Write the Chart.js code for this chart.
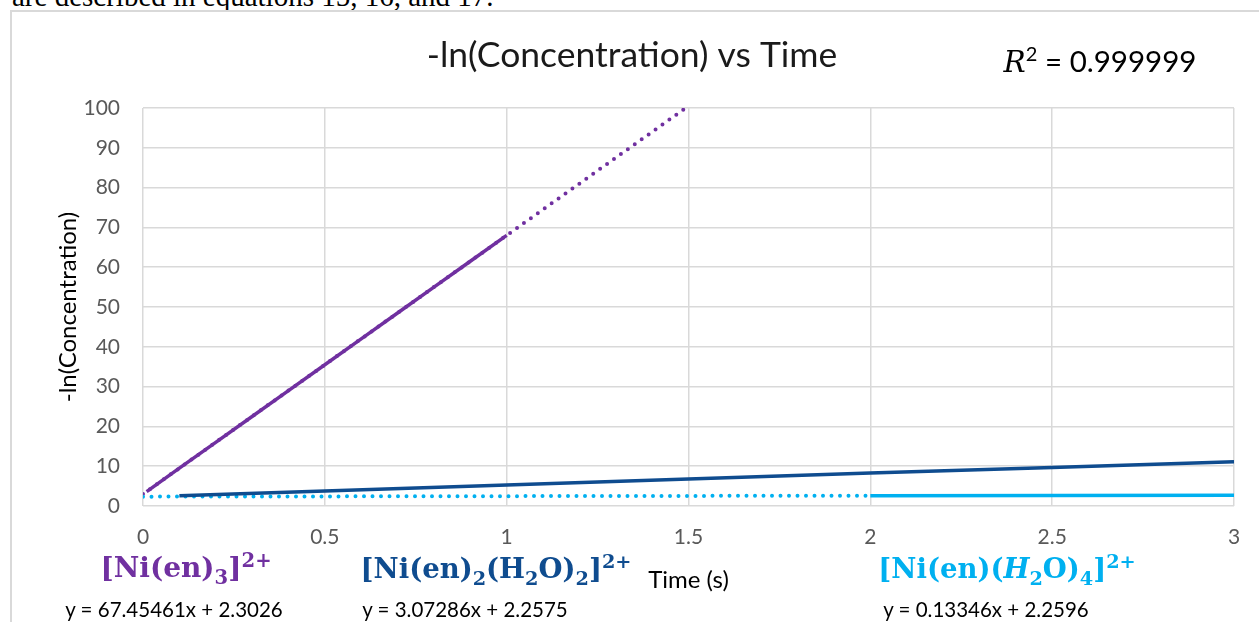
<!DOCTYPE html>
<html>
<head>
<meta charset="utf-8">
<title>-ln(Concentration) vs Time</title>
<script src="https://cdn.jsdelivr.net/npm/chart.js@4.4.0/dist/chart.umd.min.js"></script>
<style>
  html, body { margin: 0; padding: 0; background: #fff; overflow: hidden; }
  #wrap { position: relative; width: 1259px; height: 622px; overflow: hidden; }
  #frame { position: absolute; left: 10px; top: 10px; width: 1300px; height: 700px; border: 2px solid #d9d9d9; box-sizing: border-box; }
  #intro { position: absolute; left: 12px; top: -18px; font: 29px "Liberation Serif"; line-height: 29px; white-space: nowrap; color: #000; }
  canvas { position: absolute; left: 0; top: 0; }
  .lbl { position: absolute; white-space: nowrap; transform: translateX(-50%); }
  .chem { font: bold 28px "DejaVu Serif"; line-height: 30px; }
  .chem.small { font-size: 27.5px; }
  .chem sub, .chem sup { font-size: 0.7em; line-height: 0; }
  .eq { font: 20.5px Lato; color: #000; line-height: 22px; }
  #r2 { font: 29.5px Lato; color: #000; line-height: 32px; }
  #r2 i { font-family: "DejaVu Serif"; }
  #r2 sup { font-size: 0.68em; line-height: 0; }
</style>
</head>
<body>
<div id="wrap">
  <div id="intro">are described in equations 15, 16, and 17.</div>
  <div id="frame"></div>
  <canvas id="chart" width="1259" height="622"></canvas>

  <div id="r2" class="lbl" style="left:1100px; top:45px;"><i>R</i><sup>2</sup> = 0.999999</div>

  <div class="lbl chem" style="left:186px; top:553px; color:#7030A0;">[Ni(en)<sub>3</sub>]<sup>2+</sup></div>
  <div class="lbl chem small" style="left:496px; top:553px; color:#0F4C8F;">[Ni(en)<sub>2</sub>(H<sub>2</sub>O)<sub>2</sub>]<sup>2+</sup></div>
  <div class="lbl chem small" style="left:1007px; top:553px; color:#00B0F0;">[Ni(en)(<i>H</i><sub>2</sub>O)<sub>4</sub>]<sup>2+</sup></div>

  <div class="lbl eq" style="left:174px; top:598px;">y = 67.45461x + 2.3026</div>
  <div class="lbl eq" style="left:465px; top:598px;">y = 3.07286x + 2.2575</div>
  <div class="lbl eq" style="left:986px; top:598px;">y = 0.13346x + 2.2596</div>
</div>

<script>
// [Ni(en)3]2+ measured points
const triTime = [0.01, 0.1, 0.2, 0.3, 0.4, 0.5, 0.6, 0.7, 0.8, 0.9, 1.0];
const triVals = [3.6, 9.5, 16.0, 22.5, 29.0, 35.5, 42.0, 48.5, 55.0, 61.5, 68.0];
// its trendline (forecast to 1.5 s, clipped at the top)
const triTrendTime = [0, 1.5];
const triTrendVals = [3.0, 100.5];

// [Ni(en)2(H2O)2]2+
const biTime = [0.1, 0.5, 1.0, 1.5, 2.0, 2.5, 3.0];
const biVals = [2.6, 3.8, 5.3, 6.8, 8.3, 9.7, 11.1];

// [Ni(en)(H2O)4]2+
const monoTime = [2.0, 2.5, 3.0];
const monoVals = [2.6, 2.65, 2.7];
const monoTrendTime = [0, 2.0];
const monoTrendVals = [2.35, 2.6];

const xTicks = [0, 0.5, 1, 1.5, 2, 2.5, 3];

const PURPLE = "#7030A0";
const DARKBLUE = "#0F4C8F";
const LIGHTBLUE = "#00B0F0";
const tickFont = { family: "Lato", size: 21 };

const pts = (xs, ys) => xs.map((x, i) => ({ x: x, y: ys[i] }));

const solid = (data, color, order) => ({
    data, borderColor: color, borderWidth: 3.5, pointRadius: 0,
    tension: 0, fill: false, order
});
const dotted = (data, color, order) => ({
    data, borderColor: color, borderWidth: 4, pointRadius: 0,
    borderDash: [0, 8.5], borderCapStyle: "round",
    tension: 0, fill: false, order
});

new Chart(document.getElementById("chart"), {
    type: "line",
    data: {
        datasets: [
            solid(pts(triTime, triVals), PURPLE, 0),
            solid(pts(biTime, biVals), DARKBLUE, 0),
            solid(pts(monoTime, monoVals), LIGHTBLUE, 0),
            dotted(pts(triTrendTime, triTrendVals), PURPLE, 2),
            dotted(pts(monoTrendTime, monoTrendVals), LIGHTBLUE, 1),
        ]
    },
    options: {
        responsive: false,
        animation: false,
        layout: { padding: { left: 30, right: 25, top: 0, bottom: 0 } },
        plugins: {
            legend: { display: false },
            tooltip: { enabled: false },
            title: {
                display: true,
                text: "-ln(Concentration) vs Time",
                color: "#1a1a1a",
                font: { family: "Lato", size: 35.5, weight: "normal" },
                padding: { top: 34, bottom: 31.4 }
            }
        },
        scales: {
            x: {
                type: "linear", min: 0, max: 3,
                afterBuildTicks: (s) => { s.ticks = xTicks.map(v => ({ value: v })); },
                ticks: { color: "#595959", font: tickFont, padding: 18.4, callback: v => String(v) },
                grid: { color: "#d9d9d9", lineWidth: 1.5, drawTicks: false },
                border: { display: false },
                title: {
                    display: true, text: "Time (s)", color: "#000",
                    font: { family: "Lato", size: 24 }, padding: { top: 0, bottom: 27.6 }
                },
                afterFit: (s) => { s.height = 116; }
            },
            y: {
                min: 0, max: 100,
                ticks: { stepSize: 10, color: "#595959", font: tickFont, padding: 23 },
                grid: { color: "#d9d9d9", lineWidth: 1.5, drawTicks: false },
                border: { display: false },
                title: {
                    display: true, text: "-ln(Concentration)", color: "#000",
                    font: { family: "Lato", size: 24 }, padding: { top: 23.6, bottom: 0 }
                },
                afterFit: (s) => { s.width = 113; }
            }
        }
    }
});
</script>
</body>
</html>
